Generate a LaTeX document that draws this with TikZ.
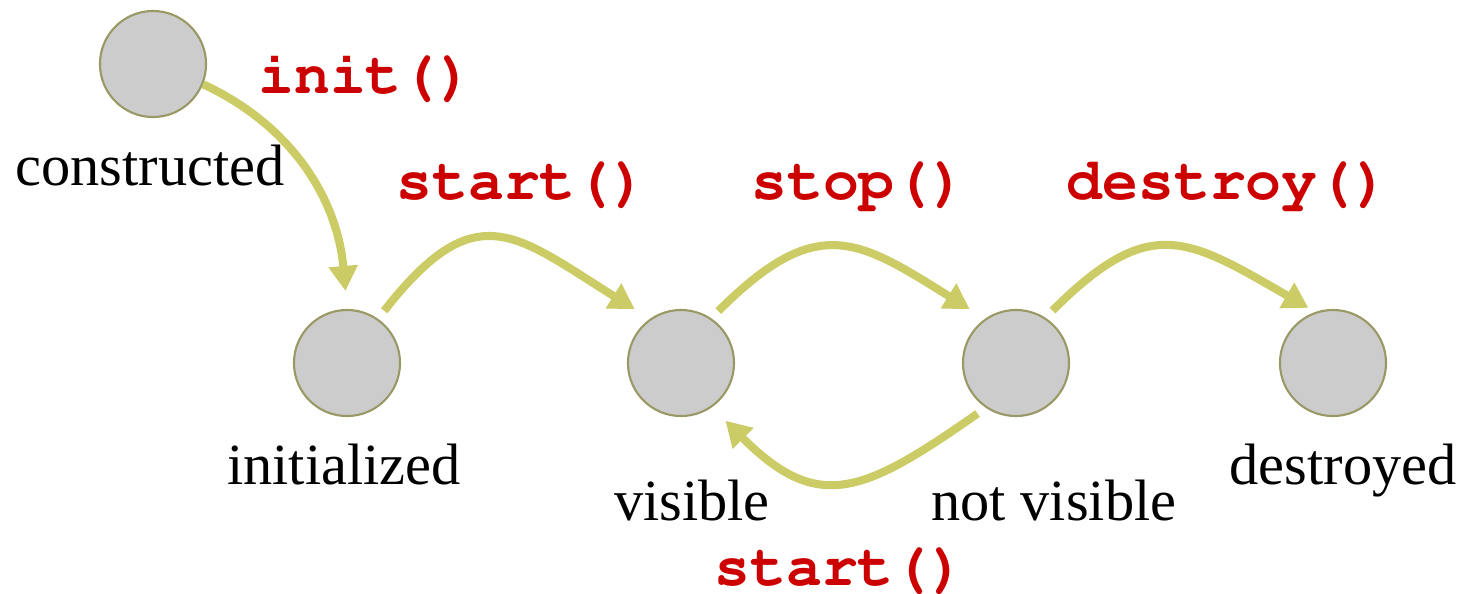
\documentclass[tikz,border=0pt]{standalone}
\usepackage[T1]{fontenc}
\usepackage{fontspec}
\setmainfont{Liberation Serif}
\usetikzlibrary{positioning, calc, arrows.meta}
\definecolor{stategray}{HTML}{CCCCCC}
\definecolor{stateedge}{HTML}{999966}
\definecolor{flowline}{HTML}{CCCC66}
\definecolor{callred}{HTML}{CC0000}
\newcommand{\codefont}{\fontencoding{T1}\fontfamily{pcr}\fontseries{b}\selectfont}
\begin{document}
\begin{tikzpicture}[x=0.01cm, y=-0.01cm, thick]
            % Define block styles
            \tikzstyle{statenode} = [circle, draw=stateedge, fill=stategray, line width=0.6pt, minimum size=1.06cm, inner sep=0pt]
            \tikzstyle{statelabel} = [anchor=base, font=\fontsize{16.6}{20}\selectfont]
            \tikzstyle{calllabel} = [anchor=base, text=callred, font=\fontsize{17}{20}\codefont]
            \tikzstyle{flow} = [draw=flowline, line width=2.3pt, -{Triangle[length=0.25cm, width=0.28cm]}]

            \useasboundingbox (0,0) rectangle (1465,593);

            % Place nodes
            \node [statenode] (constructed) at (153,64) {};
            \node [statenode] (initialized) at (347,363) {};
            \node [statenode] (visible) at (681,363) {};
            \node [statenode] (notvisible) at (1016,363) {};
            \node [statenode] (destroyed) at (1333,363) {};

            % State names
            \node [statelabel] (constructed_lbl) at (150,185) {constructed};
            \node [statelabel] (initialized_lbl) at (344,484) {initialized};
            \node [statelabel] (visible_lbl) at (692,520) {visible};
            \node [statelabel] (notvisible_lbl) at (1054,520) {not visible};
            \node [statelabel] (destroyed_lbl) at (1343,484) {destroyed};

            % Draw connections as arrows
            \draw [flow, shorten >=0.18cm] (constructed.-22) to[out=-25, in=95] (initialized.north);
            \draw [flow, shorten <=0.1cm, shorten >=0.18cm] (initialized.55) to[out=52, in=148, looseness=1.5] (visible.125);
            \draw [flow, shorten <=0.1cm, shorten >=0.18cm] (visible.56) to[out=45, in=148, looseness=1.4] (notvisible.125);
            \draw [flow, shorten <=0.1cm, shorten >=0.08cm] (notvisible.57) to[out=45, in=150, looseness=1.4] (destroyed.109);
            \draw [flow, shorten <=0.1cm, shorten >=0.19cm] (notvisible.236) to[out=-145, in=-45, looseness=1.4] (visible.-55);

            % Add text on the arrows
            \node [calllabel] (init_call) at (366,93) {init()};
            \node [calllabel] (start_call) at (522,199) {start()};
            \node [calllabel] (stop_call) at (859,199) {stop()};
            \node [calllabel] (destroy_call) at (1228,199) {destroy()};
            \node [calllabel] (restart_call) at (840,585) {start()};
        \end{tikzpicture}
\end{document}
